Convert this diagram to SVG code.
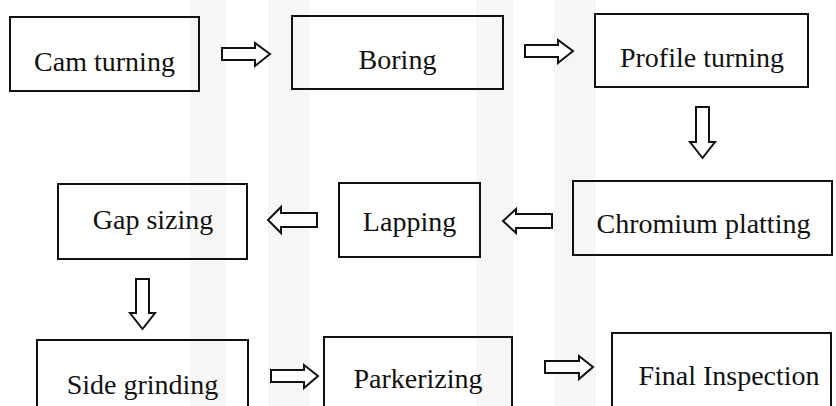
<svg xmlns="http://www.w3.org/2000/svg" width="836" height="406" viewBox="0 0 836 406">
  <style>
    .box { fill: none; stroke: #111; stroke-width: 2; }
    .lbl { font-family: 'Liberation Serif', 'Times New Roman', 'DejaVu Serif', serif; font-size: 28px; fill: #111; text-anchor: middle; }
    .arr { fill: #fff; stroke: #111; stroke-width: 2; stroke-linejoin: miter; }
    .wm { fill: #f6f6f6; }
  </style>
  <rect width="836" height="406" fill="#fff"/>

  <!-- faint background mark -->
  <g id="backdrop">
    <rect class="wm" x="190" y="0" width="36" height="406"/>
    <rect class="wm" x="268" y="0" width="42" height="406"/>
    <rect class="wm" x="476" y="0" width="37" height="406"/>
    <rect class="wm" x="554" y="0" width="42" height="406"/>
  </g>

  <!-- process steps -->
  <g id="cam-turning">
    <rect class="box" x="10" y="17" width="189" height="74"/>
    <text class="lbl" x="104.5" y="71">Cam turning</text>
  </g>
  <g id="boring">
    <rect class="box" x="292" y="16" width="211" height="73"/>
    <text class="lbl" x="397.5" y="69">Boring</text>
  </g>
  <g id="profile-turning">
    <rect class="box" x="595" y="14" width="213" height="73"/>
    <text class="lbl" x="702" y="67">Profile turning</text>
  </g>
  <g id="chromium-platting">
    <rect class="box" x="573" y="181" width="259" height="74"/>
    <text class="lbl" x="703.5" y="233">Chromium platting</text>
  </g>
  <g id="lapping">
    <rect class="box" x="339" y="183" width="141" height="74"/>
    <text class="lbl" x="409.5" y="231">Lapping</text>
  </g>
  <g id="gap-sizing">
    <rect class="box" x="58" y="184" width="189" height="75"/>
    <text class="lbl" x="153" y="229">Gap sizing</text>
  </g>
  <g id="side-grinding">
    <rect class="box" x="37" y="340" width="211" height="80"/>
    <text class="lbl" x="142.5" y="394">Side grinding</text>
  </g>
  <g id="parkerizing">
    <rect class="box" x="324" y="337" width="188" height="80"/>
    <text class="lbl" x="418" y="388">Parkerizing</text>
  </g>
  <g id="final-inspection">
    <rect class="box" x="612" y="333" width="219" height="85"/>
    <text class="lbl" x="729" y="385">Final Inspection</text>
  </g>

  <!-- block arrows between steps -->
  <g id="connectors">
    <!-- Cam turning -> Boring -->
    <path class="arr" d="M222,48 H255 V43 L270,54 L255,66 V60 H222 Z"/>
    <!-- Boring -> Profile turning -->
    <path class="arr" d="M525,45 H558 V40 L573,51 L558,63 V57 H525 Z"/>
    <!-- Profile turning -> Chromium platting -->
    <path class="arr" d="M696,107 H709 V142 H715 L702.5,158 L690,142 H696 Z"/>
    <!-- Chromium platting -> Lapping -->
    <path class="arr" d="M552,214 H516 V209 L503,221 L516,233 V228 H552 Z"/>
    <!-- Lapping -> Gap sizing -->
    <path class="arr" d="M317,213 H281 V207 L268,220 L281,233 V227 H317 Z"/>
    <!-- Gap sizing -> Side grinding -->
    <path class="arr" d="M136,279 H149 V313 H155 L142.5,329 L130,313 H136 Z"/>
    <!-- Side grinding -> Parkerizing -->
    <path class="arr" d="M271,370 H304 V365 L318,376 L304,388 V382 H271 Z"/>
    <!-- Parkerizing -> Final Inspection -->
    <path class="arr" d="M545,361 H579 V356 L593,367 L579,379 V373 H545 Z"/>
  </g>
</svg>
